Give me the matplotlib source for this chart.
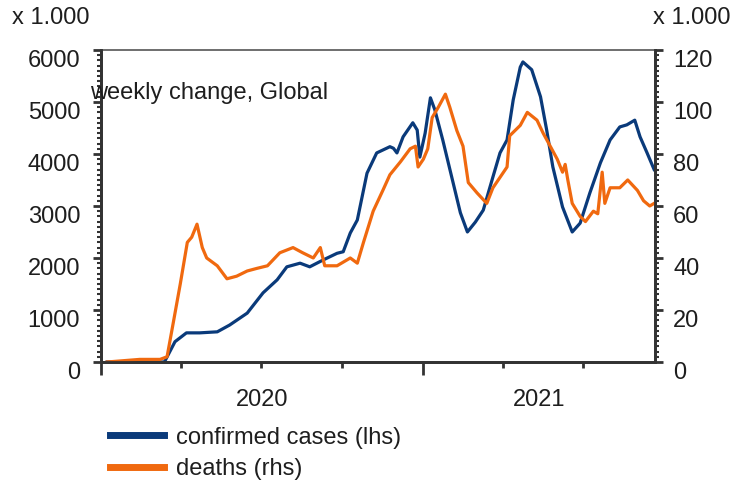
import numpy as np
import pandas as pd
import matplotlib
matplotlib.use("Agg")
import matplotlib.pyplot as plt
import matplotlib.dates as mdates
import matplotlib.transforms as mtransforms

plt.rcParams['font.family'] = ['Liberation Sans', 'DejaVu Sans']

# weekly confirmed cases, thousands (left axis)
case_dates = ['2020-01-08', '2020-03-13', '2020-03-25', '2020-04-07', '2020-04-22',
              '2020-05-12', '2020-05-26', '2020-06-15', '2020-07-03', '2020-07-19',
              '2020-07-30', '2020-08-14', '2020-08-25', '2020-09-09', '2020-09-25',
              '2020-10-02', '2020-10-10', '2020-10-18', '2020-10-29', '2020-11-09',
              '2020-11-24', '2020-11-28', '2020-12-02', '2020-12-09', '2020-12-20',
              '2020-12-25', '2020-12-28', '2021-01-03', '2021-01-09', '2021-01-14',
              '2021-01-23', '2021-02-03', '2021-02-12', '2021-02-20', '2021-03-01',
              '2021-03-10', '2021-03-21', '2021-03-29', '2021-04-06', '2021-04-13',
              '2021-04-21', '2021-04-24', '2021-05-04', '2021-05-14', '2021-05-21',
              '2021-05-28', '2021-06-08', '2021-06-19', '2021-06-28', '2021-07-09',
              '2021-07-21', '2021-08-01', '2021-08-12', '2021-08-20', '2021-08-29',
              '2021-09-04', '2021-09-12', '2021-09-20']
cases = [0, 0, 390, 560, 560,
         580, 710, 940, 1330, 1580,
         1830, 1900, 1830, 1960, 2090,
         2120, 2480, 2730, 3630, 4020,
         4140, 4110, 4020, 4330, 4600,
         4460, 3940, 4400, 5080, 4850,
         4270, 3500, 2870, 2500, 2690,
         2920, 3560, 4020, 4270, 5040,
         5670, 5770, 5620, 5100, 4460,
         3750, 2980, 2500, 2670, 3250,
         3830, 4270, 4520, 4560, 4650,
         4330, 4020, 3700]

# weekly deaths, thousands (right axis)
death_dates = ['2020-01-08', '2020-02-14', '2020-03-08', '2020-03-16', '2020-03-23',
               '2020-03-31', '2020-04-08', '2020-04-13', '2020-04-19', '2020-04-25',
               '2020-04-30', '2020-05-12', '2020-05-23', '2020-06-03', '2020-06-15',
               '2020-06-26', '2020-07-08', '2020-07-22', '2020-08-06', '2020-08-17',
               '2020-08-29', '2020-09-06', '2020-09-11', '2020-09-25', '2020-10-10',
               '2020-10-18', '2020-10-25', '2020-11-05', '2020-11-16', '2020-11-24',
               '2020-12-06', '2020-12-17', '2020-12-23', '2020-12-26', '2021-01-01',
               '2021-01-06', '2021-01-11', '2021-01-18', '2021-01-26', '2021-01-31',
               '2021-02-08', '2021-02-15', '2021-02-21', '2021-03-03', '2021-03-14',
               '2021-03-21', '2021-03-29', '2021-04-06', '2021-04-09', '2021-04-21',
               '2021-04-29', '2021-05-10', '2021-05-17', '2021-05-25', '2021-06-02',
               '2021-06-08', '2021-06-11', '2021-06-14', '2021-06-19', '2021-06-28',
               '2021-07-04', '2021-07-13', '2021-07-18', '2021-07-23', '2021-07-26',
               '2021-08-01', '2021-08-12', '2021-08-21', '2021-09-01', '2021-09-08',
               '2021-09-15', '2021-09-20']
deaths = [0, 1, 1, 2, 15,
          30, 46, 48, 53, 44,
          40, 37, 32, 33, 35,
          36, 37, 42, 44, 42,
          40, 44, 37, 37, 40,
          38, 46, 58, 66, 72,
          77, 82, 83, 75, 78,
          82, 94, 98, 103, 98,
          89, 83, 69, 65, 61,
          67, 71, 75, 87, 91,
          96, 93, 88, 83, 78,
          73, 76, 70, 61, 56,
          54, 58, 57, 73, 61,
          67, 67, 70, 66, 62,
          60, 61]

year_labels = ['2020', '2021']

blue = '#0a3a7a'
orange = '#f0690f'
dark = '#333333'
txt = '#1e1e1e'

fig = plt.figure(figsize=(7.34, 4.87), dpi=100)
ax = fig.add_axes([0.1376, 0.2567, 0.7548, 0.6407])
ax2 = ax.twinx()

l1, = ax.plot(pd.to_datetime(case_dates), cases, color=blue, lw=2.3)
l2, = ax2.plot(pd.to_datetime(death_dates), deaths, color=orange, lw=2.3)

start = pd.Timestamp('2020-01-01')
end = pd.Timestamp('2021-09-21')
ax.set_xlim(start, end)
ax.set_ylim(0, 6000)
ax2.set_ylim(0, 120)
ax.set_yticks(range(0, 6001, 1000))
ax.set_yticks(range(0, 6001, 100), minor=True)
ax2.set_yticks(range(0, 121, 20))
ax2.set_yticks(range(0, 121, 2), minor=True)

ax.xaxis.set_major_locator(mdates.YearLocator())
ax.xaxis.set_minor_locator(mdates.MonthLocator(bymonth=[1, 4, 7, 10]))
ax.xaxis.set_major_formatter(plt.NullFormatter())
ax.tick_params(axis='x', which='major', length=9, width=2, color=dark)
ax.tick_params(axis='x', which='minor', length=4, width=2, color=dark)

ax.tick_params(axis='y', which='major', length=6, width=2, color=dark,
               labelsize=17, labelcolor=txt, pad=9)
ax.tick_params(axis='y', which='minor', length=3, width=1.5, color=dark)
ax2.tick_params(axis='y', which='major', length=6, width=2, color=dark,
                labelsize=17, labelcolor=txt, pad=7)
ax2.tick_params(axis='y', which='minor', length=3, width=1.5, color=dark)

# labels sit a little below their ticks
shift = mtransforms.ScaledTranslation(0, -6 / 72, fig.dpi_scale_trans)
for lab in ax.get_yticklabels() + ax2.get_yticklabels():
    lab.set_transform(lab.get_transform() + shift)

for a in (ax, ax2):
    for s in a.spines.values():
        s.set_color(dark)
        s.set_linewidth(2)
ax.spines['top'].set_color('#555555')
ax.spines['top'].set_linewidth(1.2)
ax2.spines['top'].set_visible(False)

# year labels centred on the visible part of each year
for yl in year_labels:
    y0 = max(pd.Timestamp(yl + '-01-01'), start)
    y1 = min(pd.Timestamp(str(int(yl) + 1) + '-01-01'), end)
    mid = y0 + (y1 - y0) / 2
    ax.text(mid, -0.085, yl, transform=ax.get_xaxis_transform(), ha='center',
            va='top', fontsize=17, color=txt)

fig.text(0.017, 0.963, 'x 1.000', fontsize=17, color=txt, ha='left', va='center')
fig.text(0.995, 0.963, 'x 1.000', fontsize=17, color=txt, ha='right', va='center')
fig.text(0.123, 0.81, 'weekly change, Global', fontsize=17, color=txt,
         ha='left', va='center')

fig.legend([l1, l2], ['confirmed cases (lhs)', 'deaths (rhs)'],
           loc='upper left', bbox_to_anchor=(0.15, 0.124), frameon=False,
           fontsize=17, handlelength=2.3, handletextpad=0.5, labelspacing=0.4,
           borderaxespad=0, borderpad=0, labelcolor=txt)
for h in fig.legends[0].legend_handles:
    h.set_linewidth(5)

fig.savefig('out.png', dpi=100)
